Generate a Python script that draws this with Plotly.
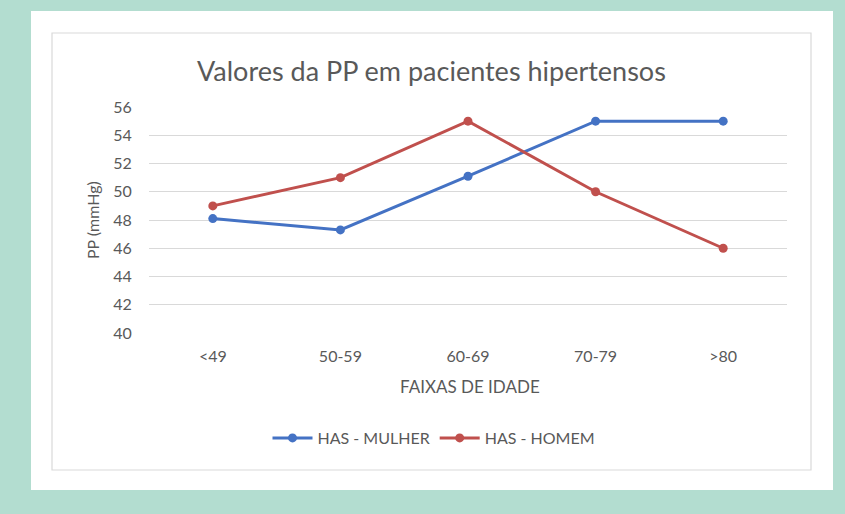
import plotly.graph_objects as go

categories = ["<49", "50-59", "60-69", "70-79", ">80"]
mulher = [48.1, 47.3, 51.1, 55.0, 55.0]
homem = [49.0, 51.0, 55.0, 50.0, 46.0]
y_ticks = [40, 42, 44, 46, 48, 50, 52, 54, 56]

W, H = 845, 514
L, R, T, B = 149, 787, 107, 333

def px(x):
    return (x - L) / (R - L)

def py(y):
    return (B - y) / (B - T)

FONT = "Lato"
GRAY = "#595959"

fig = go.Figure()
fig.add_trace(go.Scatter(x=categories, y=mulher, name="HAS - MULHER", mode="lines+markers",
                         line=dict(color="#4472C4", width=3), marker=dict(size=9, color="#4472C4")))
fig.add_trace(go.Scatter(x=categories, y=homem, name="HAS - HOMEM", mode="lines+markers",
                         line=dict(color="#C0504D", width=3), marker=dict(size=9, color="#C0504D")))

fig.update_layout(
    width=W, height=H,
    margin=dict(l=L, r=W - R, t=T, b=H - B),
    paper_bgcolor="#b3ddd0",
    plot_bgcolor="rgba(0,0,0,0)",
    font=dict(family=FONT, color=GRAY, size=16),
    showlegend=True,
    legend=dict(orientation="h", x=px(434), xanchor="center", y=py(438), yanchor="middle",
                font=dict(size=16, color=GRAY), bgcolor="rgba(0,0,0,0)", itemwidth=40),
    xaxis=dict(range=[-0.5, 4.5], showgrid=False, zeroline=False, showline=False,
               ticks="outside", ticklen=9, tickcolor="rgba(0,0,0,0)",
               tickfont=dict(size=16, color=GRAY)),
    yaxis=dict(range=[40, 56], tickvals=y_ticks, showgrid=True, gridcolor="#d9d9d9", gridwidth=1,
               zeroline=False, showline=False, ticks="outside", ticklen=13,
               tickcolor="rgba(0,0,0,0)", tickfont=dict(size=16, color=GRAY)),
    shapes=[
        dict(type="rect", xref="paper", yref="paper", x0=px(31), x1=px(833), y0=py(490), y1=py(11),
             fillcolor="white", line=dict(width=0), layer="below"),
        dict(type="rect", xref="paper", yref="paper", x0=px(52), x1=px(811), y0=py(470), y1=py(33),
             fillcolor="rgba(0,0,0,0)", line=dict(width=1.2, color="#d9d9d9"), layer="below"),
    ],
    annotations=[
        dict(text="Valores da PP em pacientes hipertensos", xref="paper", yref="paper",
             x=px(431), y=py(70), xanchor="center", yanchor="middle", showarrow=False,
             font=dict(size=27, color=GRAY, family=FONT)),
        dict(text="FAIXAS DE IDADE", xref="paper", yref="paper",
             x=px(470), y=py(386), xanchor="center", yanchor="middle", showarrow=False,
             font=dict(size=17, color=GRAY, family=FONT)),
        dict(text="PP (mmHg)", xref="paper", yref="paper", textangle=-90,
             x=px(92), y=py(220), xanchor="center", yanchor="middle", showarrow=False,
             font=dict(size=16, color=GRAY, family=FONT)),
    ],
)

fig.write_html("out.html", config={"displayModeBar": False},
               post_script="document.body.style.margin='0';document.body.style.padding='0';")
